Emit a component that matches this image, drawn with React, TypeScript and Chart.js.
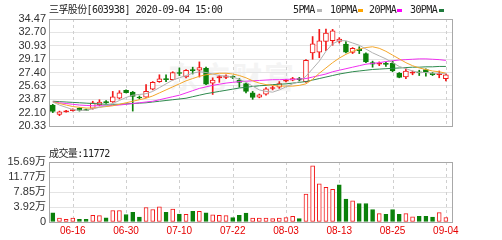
import React, { useEffect, useRef } from "react";
import { Chart, registerables } from "chart.js";
Chart.register(...registerables);

const dates = ["06-11","06-12","06-15","06-16","06-17","06-18","06-19","06-22","06-23","06-24","06-29","06-30","07-01","07-02","07-03","07-06","07-07","07-08","07-09","07-10","07-13","07-14","07-15","07-16","07-17","07-20","07-21","07-22","07-23","07-24","07-27","07-28","07-29","07-30","07-31","08-03","08-04","08-05","08-06","08-07","08-10","08-11","08-12","08-13","08-14","08-17","08-18","08-19","08-20","08-21","08-24","08-25","08-26","08-27","08-28","08-31","09-01","09-02","09-03","09-04"];
const tickDates = ["06-16","06-30","07-10","07-22","08-03","08-13","08-25","09-04"];

const opens = [23.10,21.85,22.20,22.35,22.65,22.50,22.65,23.10,23.55,23.50,24.00,25.05,24.80,24.15,24.15,25.20,26.20,26.60,26.45,27.40,26.80,27.80,27.70,27.95,26.00,26.70,26.75,26.88,26.40,25.95,24.70,24.15,24.55,25.28,25.45,26.25,26.40,26.60,26.20,30.00,30.10,31.50,31.60,31.50,31.15,30.05,30.50,29.90,28.70,28.50,28.60,28.60,27.30,26.80,27.30,27.50,27.80,27.30,27.10,26.60];
const highs = [23.20,22.30,22.40,22.60,22.75,22.55,23.60,23.80,23.70,24.90,25.00,25.10,24.90,24.30,25.80,26.20,27.10,27.10,27.50,28.00,27.80,28.10,28.80,28.10,26.70,27.05,27.10,26.95,26.60,26.00,24.90,24.55,25.40,25.60,26.20,26.50,26.75,26.75,29.10,32.15,33.10,33.15,33.10,32.00,31.50,30.70,30.80,30.00,28.90,28.80,28.75,28.90,27.40,27.90,27.60,27.70,27.90,27.40,27.60,27.20];
const lows = [22.10,21.70,22.15,22.30,22.30,22.35,22.55,23.00,23.30,23.45,23.90,24.70,22.30,23.90,24.10,25.10,26.10,26.20,26.40,27.00,26.70,27.20,26.80,25.80,24.50,26.10,26.60,26.60,25.45,24.70,23.85,24.05,24.40,25.10,25.30,26.15,26.30,26.30,26.10,29.15,29.35,30.30,31.00,31.30,30.00,29.90,29.90,28.70,28.10,28.30,28.20,27.50,26.70,26.60,27.10,27.00,26.90,27.00,26.70,26.30];
const closes = [22.25,22.20,22.32,22.50,22.40,22.40,23.40,23.50,23.42,24.20,24.70,24.75,24.25,24.03,24.90,26.10,26.55,26.45,27.40,27.28,27.70,27.65,28.05,25.85,26.40,26.85,26.95,26.75,26.10,24.90,24.10,24.45,25.25,25.40,25.95,26.40,26.60,26.45,29.00,31.20,31.60,32.60,32.90,31.80,30.10,30.60,30.30,28.80,28.50,28.62,28.48,27.60,26.75,27.60,27.45,27.35,27.45,27.10,27.25,27.10];

const ma5 = [23.5,23.1,22.8,22.5,22.4,22.4,22.6,22.8,23.0,23.3,23.7,24.1,24.4,24.5,24.6,24.9,25.4,25.9,26.4,26.7,27.0,27.3,27.5,27.4,27.2,27.0,26.9,26.8,26.5,26.1,25.6,25.1,24.9,24.8,25.1,25.5,25.9,26.2,26.9,27.9,28.9,30.2,31.2,31.6,31.6,31.3,31.0,30.5,30.0,29.6,29.2,28.7,28.2,27.9,27.6,27.4,27.4,27.3,27.3,27.2];
const ma10 = [23.5,23.3,23.1,22.9,22.8,22.7,22.7,22.8,22.9,23.0,23.2,23.4,23.6,23.8,24.0,24.3,24.7,25.1,25.5,25.9,26.3,26.6,26.9,27.1,27.2,27.3,27.3,27.2,27.0,26.7,26.3,26.0,25.8,25.7,25.6,25.6,25.6,25.7,25.9,26.5,27.3,28.0,28.7,29.3,29.8,30.2,30.5,30.7,30.8,30.6,30.2,29.7,29.2,28.7,28.3,28.0,27.8,27.6,27.5,27.3];
const ma20 = [23.5,23.4,23.3,23.2,23.1,23.05,23.0,23.0,23.0,23.05,23.1,23.2,23.3,23.4,23.5,23.6,23.8,24.0,24.2,24.4,24.7,25.0,25.3,25.5,25.7,25.85,26.0,26.1,26.2,26.25,26.3,26.35,26.4,26.45,26.45,26.5,26.5,26.55,26.6,26.8,27.0,27.2,27.5,27.7,27.9,28.1,28.3,28.5,28.6,28.7,28.85,28.95,29.05,29.1,29.15,29.2,29.2,29.15,29.1,29.0];
const ma30 = [23.6,23.55,23.5,23.45,23.4,23.35,23.3,23.25,23.2,23.2,23.2,23.25,23.3,23.35,23.4,23.5,23.6,23.7,23.8,23.9,24.0,24.2,24.4,24.6,24.75,24.9,25.05,25.2,25.35,25.45,25.55,25.65,25.7,25.8,25.85,25.9,26.0,26.1,26.2,26.4,26.6,26.8,27.0,27.2,27.35,27.5,27.6,27.7,27.8,27.85,27.9,27.95,28.0,28.05,28.1,28.1,28.15,28.15,28.2,28.2];

const volumes = [23800,10500,7000,10500,7000,7000,17700,16700,11000,30000,30000,19500,25600,13000,38000,32700,39600,25600,34000,20500,20300,28000,28000,23800,18500,17600,16500,11400,17600,23000,10500,10500,10500,8800,10500,11400,15000,8800,73000,147000,99600,90700,85400,97000,60000,55500,48400,48400,32600,22000,20300,32600,20300,22000,13200,15000,15000,13000,24700,11772];
const volUp = [0,1,1,1,0,0,1,1,0,1,1,0,0,0,1,1,1,0,1,0,1,0,1,0,1,1,1,0,0,0,1,1,1,1,1,1,1,0,1,1,1,1,1,0,0,1,0,0,0,1,0,0,0,1,1,0,0,0,1,1];

const priceTicks = [20.33,22.10,23.87,25.63,27.40,29.17,30.93,32.70,34.47];
const volTicks = [0,39225,78450,117675,156900];
const volTickLabels = ["0","3.92万","7.85万","11.77万","15.69万"];

const RED = "#f21818";
const GREEN = "#0a800a";
const AX_FONT = "'Liberation Sans', 'Noto Sans CJK SC', sans-serif";
const TXT_FONT = "'DejaVu Sans Mono', 'Noto Sans CJK SC', monospace";

const tickIdx = tickDates.map((d) => dates.indexOf(d));

const framePlugin = {
  id: "frame",
  beforeDatasetsDraw(chart: any) {
    const { ctx, chartArea: a, scales } = chart;
    const x = scales.x;
    ctx.save();
    ctx.strokeStyle = "#cfcfcf";
    ctx.lineWidth = 1;
    ctx.setLineDash([3, 3]);
    tickIdx.forEach((i) => {
      const px = Math.round(x.getPixelForValue(i)) + 0.5;
      ctx.beginPath();
      ctx.moveTo(px, a.top);
      ctx.lineTo(px, a.bottom);
      ctx.stroke();
    });
    ctx.restore();
  },
  afterDraw(chart: any) {
    const { ctx, chartArea: a } = chart;
    ctx.save();
    ctx.strokeStyle = "#a8a8a8";
    ctx.lineWidth = 1;
    ctx.strokeRect(Math.round(a.left) + 0.5, Math.round(a.top) + 0.5, Math.round(a.right - a.left) - 1, Math.round(a.bottom - a.top));
    ctx.restore();
  },
};

const xScale = (showLabels: boolean) => ({
  type: "linear" as const,
  min: -0.57,
  max: 60.07,
  offset: false,
  display: showLabels,
  grid: { display: false, drawTicks: false },
  border: { display: false },
  afterBuildTicks: (s: any) => {
    s.ticks = tickIdx.map((v) => ({ value: v }));
  },
  afterFit: (s: any) => {
    s.height = 18;
  },
  ticks: {
    autoSkip: false,
    maxRotation: 0,
    padding: 3,
    color: "#e60000",
    font: { family: AX_FONT, size: 10 },
    callback: (v: any) => dates[v as number] ?? "",
  },
});

export default function App() {
  const priceRef = useRef<HTMLCanvasElement>(null);
  const volRef = useRef<HTMLCanvasElement>(null);

  useEffect(() => {
    document.body.style.margin = "0";
    const up = closes.map((c, i) => c >= opens[i]);
    const lineDs = (data: number[], color: string) => ({
      type: "line" as const,
      data: data.map((v, i) => ({ x: i, y: v })),
      borderColor: color,
      borderWidth: 1,
      pointRadius: 0,
      tension: 0,
      fill: false,
    });

    const c1 = new Chart(priceRef.current!, {
      type: "bar",
      data: {
        datasets: [
          lineDs(ma5, "#b0b0b0") as any,
          lineDs(ma10, "#f4a62a") as any,
          lineDs(ma20, "#f030f0") as any,
          lineDs(ma30, "#2f8a4e") as any,
          {
            type: "bar",
            data: opens.map((o, i) => ({ x: i, y: [o, closes[i]] })),
            backgroundColor: opens.map((o, i) => (up[i] ? (Math.abs(closes[i] - o) < 0.2 ? RED : "#ffffff") : GREEN)),
            borderColor: opens.map((o, i) => (up[i] ? RED : GREEN)),
            borderWidth: 1,
            borderSkipped: false,
            grouped: false,
            barPercentage: 1,
            categoryPercentage: 1,
            maxBarThickness: 5,
          },
          {
            type: "bar",
            data: lows.map((l, i) => ({ x: i, y: [l, highs[i]] })),
            backgroundColor: opens.map((o, i) => (up[i] ? RED : GREEN)),
            borderWidth: 0,
            grouped: false,
            barPercentage: 1,
            categoryPercentage: 1,
            maxBarThickness: 1,
          },
        ],
      },
      options: {
        responsive: false,
        animation: false,
        events: [],
        layout: { padding: { top: 19, bottom: 6, left: 0, right: 49 } },
        plugins: { legend: { display: false }, tooltip: { enabled: false } },
        scales: {
          x: xScale(false) as any,
          y: {
            type: "linear",
            min: 20.33,
            max: 34.47,
            afterBuildTicks: (s: any) => {
              s.ticks = priceTicks.map((v) => ({ value: v }));
            },
            afterFit: (s: any) => {
              s.width = 49;
            },
            grid: { color: "#e4e4e4", drawTicks: false },
            border: { display: false },
            ticks: {
              autoSkip: false,
              padding: 3,
              color: "#333",
              font: { family: AX_FONT, size: 11 },
              callback: (v: any) => Number(v).toFixed(2),
            },
          },
        },
      },
      plugins: [framePlugin],
    });

    const c2 = new Chart(volRef.current!, {
      type: "bar",
      data: {
        datasets: [
          {
            data: volumes.map((v, i) => ({ x: i, y: v })),
            backgroundColor: volUp.map((u) => (u ? "#ffffff" : GREEN)),
            borderColor: volUp.map((u) => (u ? RED : GREEN)),
            borderWidth: 1,
            borderSkipped: false,
            grouped: false,
            barPercentage: 1,
            categoryPercentage: 1,
            maxBarThickness: 4,
          },
        ],
      },
      options: {
        responsive: false,
        animation: false,
        events: [],
        layout: { padding: { top: 12, bottom: 0, left: 0, right: 49 } },
        plugins: { legend: { display: false }, tooltip: { enabled: false } },
        scales: {
          x: xScale(true) as any,
          y: {
            type: "linear",
            min: 0,
            max: 156900,
            afterBuildTicks: (s: any) => {
              s.ticks = volTicks.map((v) => ({ value: v }));
            },
            afterFit: (s: any) => {
              s.width = 49;
            },
            grid: { color: "#e4e4e4", drawTicks: false },
            border: { display: false },
            ticks: {
              autoSkip: false,
              padding: 3,
              color: "#333",
              font: { family: AX_FONT, size: 11 },
              callback: (v: any) => volTickLabels[volTicks.indexOf(Number(v))] ?? "",
            },
          },
        },
      },
      plugins: [framePlugin],
    });

    return () => {
      c1.destroy();
      c2.destroy();
    };
  }, []);

  const txt: React.CSSProperties = {
    position: "absolute",
    fontFamily: TXT_FONT,
    fontSize: 10,
    lineHeight: "12px",
    letterSpacing: "-0.6px",
    color: "#222",
    whiteSpace: "nowrap",
  };
  const legend = [
    { label: "5PMA", color: "#b8b8b8", x: 293, sx: 317 },
    { label: "10PMA", color: "#ffa500", x: 330, sx: 358 },
    { label: "20PMA", color: "#ff00ff", x: 369, sx: 397 },
    { label: "30PMA", color: "#1f7a3c", x: 410, sx: 439 },
  ];

  return (
    <div style={{ position: "fixed", left: 0, top: 0, width: 502, height: 240, background: "#fff", overflow: "hidden" }}>
      <div
        style={{
          position: "absolute",
          left: 168,
          top: 58,
          fontFamily: "'Noto Sans CJK SC', sans-serif",
          fontWeight: 700,
          fontSize: 30,
          lineHeight: "34px",
          color: "#f4f4f4",
          letterSpacing: "2px",
        }}
      >
        东方财富
      </div>
      <canvas ref={priceRef} width={502} height={150} style={{ position: "absolute", left: 0, top: 0, width: 502, height: 150 }} />
      <canvas ref={volRef} width={502} height={90} style={{ position: "absolute", left: 0, top: 150, width: 502, height: 90 }} />
      <div style={{ ...txt, left: 49, top: 4 }}>三孚股份[603938] 2020-09-04 15:00</div>
      {legend.map((l) => (
        <React.Fragment key={l.label}>
          <div style={{ ...txt, left: l.x, top: 4 }}>{l.label}</div>
          <div style={{ position: "absolute", left: l.sx, top: 9, width: 5, height: 3, background: l.color }} />
        </React.Fragment>
      ))}
      <div style={{ ...txt, left: 49, top: 148 }}>成交量:11772</div>
    </div>
  );
}
